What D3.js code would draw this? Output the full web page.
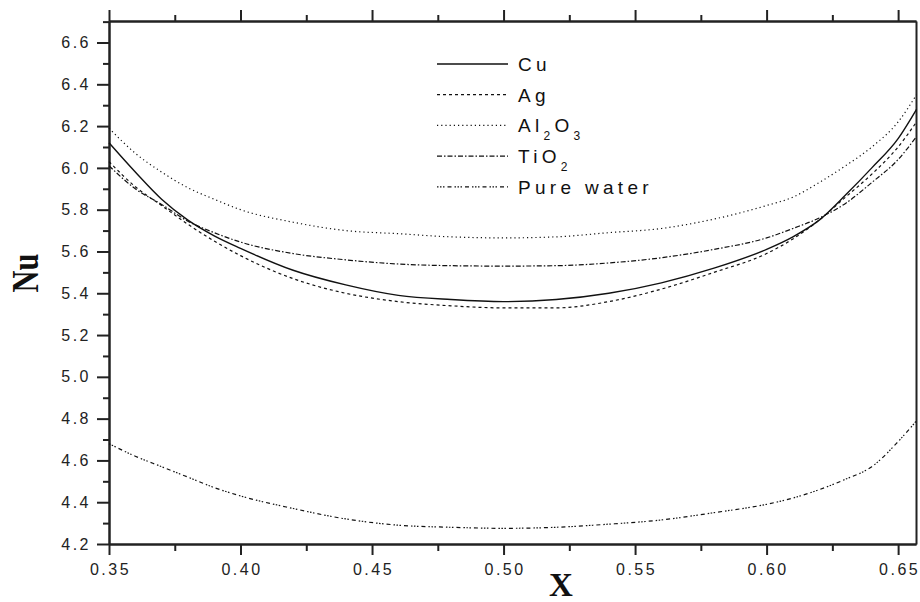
<!DOCTYPE html>
<html>
<head>
<meta charset="utf-8">
<script src="https://cdn.jsdelivr.net/npm/d3@7"></script>
<style>
  body { margin: 0; background: #fff; }
  svg { display: block; }
  .tick text { font-family: Arial, "Liberation Sans", sans-serif; font-size: 16px; letter-spacing: 2.5px; fill: #222; }
  .legend text { font-family: Arial, "Liberation Sans", sans-serif; font-size: 19px; letter-spacing: 4.3px; fill: #111; }
  .title { font-family: "Times New Roman", "Liberation Serif", serif; font-weight: bold; fill: #111; }
</style>
</head>
<body>
<svg id="chart" width="920" height="602"></svg>
<script>
// x positions shared by all curves
const xValues = [0.35, 0.36, 0.37, 0.38, 0.39, 0.40, 0.42, 0.44, 0.46, 0.48, 0.50, 0.52, 0.54, 0.56, 0.58, 0.60, 0.61, 0.62, 0.63, 0.64, 0.65, 0.657]

const cuValues = [6.12, 5.98, 5.85, 5.75, 5.675, 5.615, 5.51, 5.44, 5.39, 5.37, 5.36, 5.37, 5.40, 5.45, 5.52, 5.61, 5.67, 5.75, 5.87, 6.00, 6.14, 6.28]
const agValues = [6.03, 5.91, 5.82, 5.73, 5.65, 5.58, 5.47, 5.40, 5.36, 5.34, 5.33, 5.33, 5.36, 5.42, 5.50, 5.59, 5.66, 5.75, 5.86, 5.97, 6.10, 6.22]
const al2o3Values = [6.19, 6.07, 5.98, 5.905, 5.85, 5.80, 5.74, 5.70, 5.685, 5.67, 5.665, 5.67, 5.69, 5.71, 5.755, 5.82, 5.86, 5.93, 6.01, 6.10, 6.22, 6.35]
const tio2Values = [6.01, 5.90, 5.825, 5.745, 5.69, 5.645, 5.59, 5.56, 5.54, 5.532, 5.53, 5.532, 5.545, 5.57, 5.61, 5.665, 5.71, 5.76, 5.83, 5.93, 6.04, 6.15]
const waterValues = [4.68, 4.62, 4.57, 4.52, 4.47, 4.43, 4.37, 4.32, 4.29, 4.28, 4.275, 4.28, 4.295, 4.315, 4.35, 4.39, 4.42, 4.46, 4.51, 4.57, 4.69, 4.79]

const seriesNames = ['Cu', 'Ag', 'Al2O3', 'TiO2', 'Pure water']
const seriesData = [cuValues, agValues, al2o3Values, tio2Values, waterValues]
const dashes = ['none', '3,3', '1.2,3', '5,2,1.5,2', '1.5,1.5,1.5,1.5,1.5,3,4,3']

const xTicks = [0.35, 0.40, 0.45, 0.50, 0.55, 0.60, 0.65]
const yTicks = [4.2, 4.4, 4.6, 4.8, 5.0, 5.2, 5.4, 5.6, 5.8, 6.0, 6.2, 6.4, 6.6]

const margin = { top: 21, right: 4, bottom: 58, left: 109 }
const width = 920 - margin.left - margin.right
const height = 602 - margin.top - margin.bottom

const svg = d3.select('#chart')
const g = svg.append('g').attr('transform', `translate(${margin.left},${margin.top})`)

const xScale = d3.scaleLinear().domain([0.35, 0.6568]).range([0, width])
const yScale = d3.scaleLinear().domain([4.2, 6.703]).range([height, 0])

const minorX = d3.range(0.375, 0.66, 0.05)
const minorY = d3.range(4.3, 6.7, 0.2)

function styleAxis (sel) {
  sel.select('.domain').attr('stroke', '#222').attr('stroke-width', 2)
  sel.selectAll('.tick line').attr('stroke', '#222').attr('stroke-width', 2)
}

// bottom axis
g.append('g')
  .attr('transform', `translate(0,${height})`)
  .call(d3.axisBottom(xScale).tickValues(xTicks).tickFormat(d3.format('.2f')).tickSize(11).tickSizeOuter(0).tickPadding(9))
  .call(styleAxis)
  .selectAll('.tick text').attr('dx', '1px')
g.append('g')
  .attr('transform', `translate(0,${height})`)
  .call(d3.axisBottom(xScale).tickValues(minorX).tickFormat('').tickSize(7).tickSizeOuter(0))
  .call(styleAxis)

// top axis, ticks only
g.append('g')
  .call(d3.axisTop(xScale).tickValues(xTicks).tickFormat('').tickSize(11).tickSizeOuter(0))
  .call(styleAxis)
g.append('g')
  .call(d3.axisTop(xScale).tickValues(minorX).tickFormat('').tickSize(6).tickSizeOuter(0))
  .call(styleAxis)

// left axis
g.append('g')
  .call(d3.axisLeft(yScale).tickValues(yTicks).tickFormat(d3.format('.1f')).tickSize(12).tickSizeOuter(0).tickPadding(6))
  .call(styleAxis)
g.append('g')
  .call(d3.axisLeft(yScale).tickValues(minorY).tickFormat('').tickSize(6).tickSizeOuter(0))
  .call(styleAxis)

// right axis, plain line
g.append('g')
  .attr('transform', `translate(${width},0)`)
  .call(d3.axisRight(yScale).tickValues([]).tickSizeOuter(0))
  .call(styleAxis)

// curves
const line = d3.line()
  .x((d) => xScale(d[0]))
  .y((d) => yScale(d[1]))
  .curve(d3.curveMonotoneX)

seriesData.forEach((vals, i) => {
  g.append('path')
    .datum(xValues.map((x, j) => [x, vals[j]]))
    .attr('d', line)
    .attr('fill', 'none')
    .attr('stroke', '#111')
    .attr('stroke-width', i === 0 ? 1.4 : 1.2)
    .attr('stroke-dasharray', dashes[i])
})

// legend
const legend = svg.append('g').attr('class', 'legend')
seriesNames.forEach((name, i) => {
  const yPos = 64 + i * 30.7
  legend.append('line')
    .attr('x1', 437).attr('x2', 508)
    .attr('y1', yPos).attr('y2', yPos)
    .attr('stroke', '#111')
    .attr('stroke-width', i === 0 ? 1.4 : 1.2)
    .attr('stroke-dasharray', dashes[i])
  const t = legend.append('text')
    .attr('x', 518)
    .attr('y', yPos + 7)
  if (name === 'Al2O3') {
    t.append('tspan').text('Al')
    t.append('tspan').attr('font-size', 12).attr('dy', 8).text('2')
    t.append('tspan').attr('dy', -8).text('O')
    t.append('tspan').attr('font-size', 12).attr('dy', 8).text('3')
  } else if (name === 'TiO2') {
    t.append('tspan').text('TiO')
    t.append('tspan').attr('font-size', 12).attr('dy', 8).text('2')
  } else {
    t.text(name)
  }
})

// axis titles
svg.append('text')
  .attr('class', 'title')
  .attr('x', 561).attr('y', 596)
  .attr('text-anchor', 'middle')
  .attr('font-size', 33)
  .text('X')

svg.append('text')
  .attr('class', 'title')
  .attr('transform', 'translate(38,273) rotate(-90) scale(0.8,1)')
  .attr('text-anchor', 'middle')
  .attr('font-size', 38)
  .text('Nu')
</script>
</body>
</html>
